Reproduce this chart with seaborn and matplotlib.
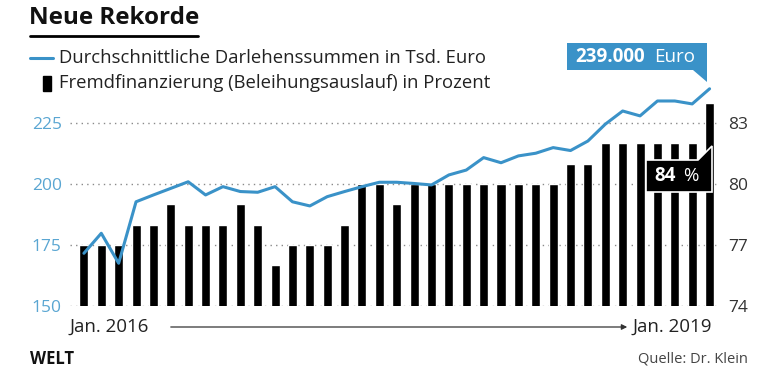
import matplotlib
matplotlib.use("Agg")
import matplotlib.pyplot as plt
import seaborn as sns
import pandas as pd
import numpy as np
from matplotlib.patches import Polygon, Rectangle
from matplotlib.lines import Line2D

# monthly data, Jan 2016 .. Jan 2019
months = pd.date_range("2016-01-01", "2019-01-01", freq="MS").strftime("%Y-%m").tolist()

loan_sum = [171.6, 179.8, 167.5, 192.7, 195.5, 198.2, 200.9, 195.5, 198.9, 196.9,
            196.6, 198.9, 192.7, 191.0, 194.8, 196.9, 198.9, 200.7, 200.7, 200.2,
            199.6, 203.7, 205.7, 210.8, 208.7, 211.5, 212.6, 214.9, 213.7, 217.6,
            224.5, 229.9, 227.9, 234.0, 234.0, 232.8, 239.0]

ltv_pct = [77, 77, 77, 78, 78, 79, 78, 78, 78, 79,
           78, 76, 77, 77, 77, 78, 80, 80, 79, 80,
           80, 80, 80, 80, 80, 80, 80, 80, 81, 81,
           82, 82, 82, 82, 82, 82, 84]

left_ticks = [150, 175, 200, 225]
right_ticks = [74, 77, 80, 83]

label_line = "Durchschnittliche Darlehenssummen in Tsd. Euro"
label_bar = "Fremdfinanzierung (Beleihungsauslauf) in Prozent"

df = pd.DataFrame({"month": months, "loan": loan_sum, "ltv": ltv_pct})
df["idx"] = np.arange(len(df))

BLUE = "#3a92c8"
W, H = 780, 373

sns.set_theme(style="white")
plt.rcParams["font.family"] = ["Open Sans", "DejaVu Sans"]

fig = plt.figure(figsize=(7.8, 3.73), dpi=100)


def px(x, y):
    return (x / W, 1 - y / H)


# main axes: bars on the right scale
ax = fig.add_axes([70 / W, 67 / H, 650 / W, 226 / H])
sns.barplot(data=df, x="idx", y="ltv", color="black", width=0.52,
            saturation=1, ax=ax)
lo = 150
hi = 242.6
ax.set_ylim(74, 74 + (hi - lo) * 0.12)
ax.set_xlim(-0.8, 36.6)
ax.set_xticks([])
ax.set_xlabel("")
ax.set_ylabel("")
ax.grid(False)
for t in right_ticks:
    ax.axhline(t, color="#8a8a8a", lw=1.0, ls=(0, (1, 3)), zorder=0)
for s in ax.spines.values():
    s.set_visible(False)

# line on the left scale
ax2 = ax.twinx()
sns.lineplot(data=df, x="idx", y="loan", color=BLUE, lw=2.2, ax=ax2)
ax2.set_ylim(lo, hi)
ax2.yaxis.tick_left()
ax2.set_yticks(left_ticks)
ax2.tick_params(axis="y", labelsize=12.5, labelcolor="#5aa6d2", length=0, pad=6)
ax2.set_xlim(-0.8, 36.6)
ax2.set_xlabel("")
ax2.set_ylabel("")
for s in ax2.spines.values():
    s.set_visible(False)

# twinx puts the first axis ticks on the left, move them back
ax.yaxis.tick_right()
ax.set_yticks(right_ticks)
ax.tick_params(axis="y", labelsize=12.5, labelcolor="#333333", length=0, pad=6,
               left=False, labelleft=False, right=True, labelright=True)

# title
fig.text(*px(29, 18), "Neue Rekorde", fontsize=17.5, fontweight="bold",
         color="#111111", va="center", ha="left")
fig.add_artist(Line2D([30 / W, 198 / W], [1 - 36 / H, 1 - 36 / H],
                      color="black", lw=2))

# legend
fig.add_artist(Line2D([30 / W, 53 / W], [1 - 58 / H, 1 - 58 / H], color=BLUE, lw=2.2))
fig.text(*px(59, 58), label_line, fontsize=13.3, color="#222222", va="center")
fig.add_artist(Rectangle(px(43, 91), 8 / W, 15 / H, transform=fig.transFigure,
                         color="black"))
fig.text(*px(59, 83), label_bar, fontsize=13.3, color="#222222", va="center")

# callout: 239.000 Euro
blue_box = [(567, 43), (707, 43), (707, 82), (693, 70), (567, 70)]
fig.add_artist(Polygon([px(*p) for p in blue_box], closed=True,
                       transform=fig.transFigure, color=BLUE, lw=0))
fig.text(*px(575, 57), "239.000", fontsize=13.5, fontweight="bold", color="white",
         va="center")
fig.text(*px(654, 57), "Euro", fontsize=13.5, color="white", va="center")

# callout: 84 %
black_box = [(646, 192), (646, 160), (698, 160), (712, 146), (712, 192)]
fig.add_artist(Polygon([px(*p) for p in black_box], closed=True,
                       transform=fig.transFigure, facecolor="black",
                       edgecolor="white", lw=1.2))
fig.text(*px(654, 176), "84", fontsize=13.5, fontweight="bold", color="white",
         va="center")
fig.text(*px(683, 176), "%", fontsize=13.5, color="white", va="center")

# time axis
fig.text(*px(70, 327), "Jan. 2016", fontsize=13.5, color="#222222", va="center")
fig.text(*px(712, 327), "Jan. 2019", fontsize=13.5, color="#222222", va="center",
         ha="right")
fig.add_artist(plt.Annotation("", xy=px(630, 327), xytext=px(168, 327),
                              xycoords="figure fraction",
                              textcoords="figure fraction",
                              arrowprops=dict(arrowstyle="-|>", color="#333333",
                                              lw=0.9, mutation_scale=8)))

# footer
fig.text(*px(30, 359), "WELT", fontsize=12, fontweight="bold", color="#111111",
         va="center")
fig.text(*px(748, 359), "Quelle: Dr. Klein", fontsize=10.5, color="#444444",
         va="center", ha="right")

fig.savefig("out.png", dpi=100)
